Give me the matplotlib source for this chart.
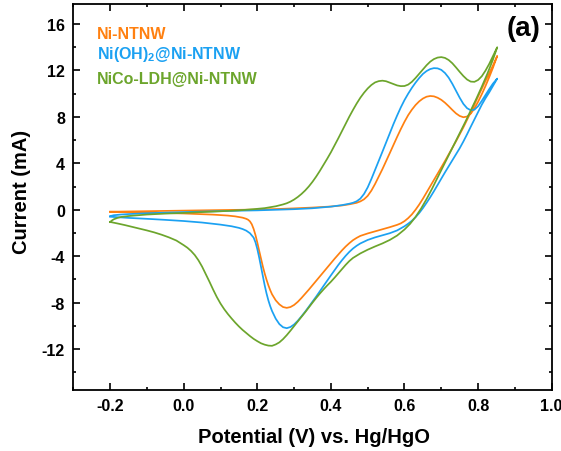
import matplotlib
matplotlib.use("Agg")
import matplotlib.pyplot as plt
from matplotlib.ticker import MultipleLocator

plt.rcParams['font.family'] = ['Liberation Sans', 'DejaVu Sans']
plt.rcParams['font.weight'] = 'bold'
plt.rcParams['axes.unicode_minus'] = False
plt.rcParams['mathtext.fontset'] = 'custom'
plt.rcParams['mathtext.rm'] = 'Liberation Sans:bold'
plt.rcParams['mathtext.bf'] = 'Liberation Sans:bold'

# ---- CV data: (potential V vs. Hg/HgO, current mA) ----
# Ni-NTNW, anodic sweep
ni_anodic = [(-0.20, -0.17), (-0.15, -0.145), (-0.10, -0.12), (-0.05, -0.095), (0.00, -0.07),
             (0.05, -0.05), (0.10, -0.03), (0.15, -0.005), (0.20, 0.02), (0.25, 0.06), (0.30, 0.12),
             (0.35, 0.19), (0.40, 0.28), (0.43, 0.37), (0.45, 0.47), (0.47, 0.60), (0.48, 0.72),
             (0.49, 0.90), (0.50, 1.20), (0.51, 1.65), (0.52, 2.22), (0.53, 2.85), (0.54, 3.50),
             (0.55, 4.18), (0.56, 4.88), (0.57, 5.58), (0.58, 6.28), (0.59, 6.95), (0.60, 7.58),
             (0.61, 8.15), (0.62, 8.62), (0.63, 9.02), (0.64, 9.34), (0.65, 9.58), (0.66, 9.74),
             (0.67, 9.80), (0.68, 9.77), (0.69, 9.65), (0.70, 9.47), (0.71, 9.22), (0.72, 8.92),
             (0.73, 8.60), (0.74, 8.30), (0.75, 8.08), (0.76, 7.97), (0.77, 8.03), (0.78, 8.28),
             (0.79, 8.72), (0.80, 9.30), (0.81, 9.95), (0.82, 10.65), (0.83, 11.40), (0.84, 12.20),
             (0.852, 13.25)]
# Ni-NTNW, cathodic sweep
ni_cathodic = [(0.852, 13.25), (0.84, 12.40), (0.83, 11.75), (0.82, 11.10), (0.81, 10.42),
               (0.80, 9.75), (0.79, 9.08), (0.78, 8.40), (0.77, 7.75), (0.76, 7.10), (0.75, 6.50),
               (0.74, 5.90), (0.73, 5.33), (0.72, 4.76), (0.71, 4.20), (0.70, 3.65), (0.69, 3.11),
               (0.68, 2.57), (0.67, 2.03), (0.66, 1.48), (0.65, 0.95), (0.64, 0.45), (0.63, 0.00),
               (0.62, -0.40), (0.61, -0.72), (0.60, -0.98), (0.59, -1.17), (0.58, -1.30),
               (0.56, -1.50), (0.54, -1.68), (0.52, -1.86), (0.50, -2.04), (0.48, -2.25),
               (0.47, -2.42), (0.46, -2.62), (0.45, -2.88), (0.44, -3.17), (0.43, -3.50),
               (0.42, -3.86), (0.41, -4.22), (0.40, -4.60), (0.39, -4.97), (0.38, -5.35),
               (0.37, -5.74), (0.36, -6.12), (0.35, -6.50), (0.34, -6.88), (0.33, -7.24),
               (0.32, -7.60), (0.31, -7.93), (0.30, -8.20), (0.29, -8.38), (0.28, -8.45),
               (0.27, -8.38), (0.26, -8.15), (0.25, -7.80), (0.24, -7.28), (0.235, -6.92),
               (0.23, -6.50), (0.225, -6.02), (0.22, -5.48), (0.215, -4.88), (0.21, -4.22),
               (0.205, -3.52), (0.20, -2.82), (0.195, -2.18), (0.19, -1.65), (0.185, -1.25),
               (0.18, -1.00), (0.175, -0.86), (0.17, -0.78), (0.16, -0.68), (0.14, -0.57),
               (0.12, -0.50), (0.08, -0.42), (0.04, -0.37), (0.00, -0.32), (-0.05, -0.28),
               (-0.10, -0.24), (-0.15, -0.20), (-0.20, -0.17)]

# Ni(OH)2@Ni-NTNW, anodic sweep
nh_anodic = [(-0.20, -0.55), (-0.19, -0.47), (-0.17, -0.41), (-0.15, -0.37), (-0.10, -0.30),
             (-0.05, -0.25), (0.00, -0.20), (0.05, -0.16), (0.10, -0.12), (0.15, -0.08),
             (0.20, -0.05), (0.25, 0.00), (0.30, 0.05), (0.35, 0.13), (0.40, 0.27), (0.43, 0.40),
             (0.45, 0.52), (0.46, 0.60), (0.47, 0.73), (0.48, 0.96), (0.49, 1.36), (0.50, 1.93),
             (0.51, 2.65), (0.52, 3.43), (0.53, 4.22), (0.54, 5.00), (0.55, 5.80), (0.56, 6.60),
             (0.57, 7.38), (0.58, 8.12), (0.59, 8.82), (0.60, 9.45), (0.61, 10.00), (0.62, 10.50),
             (0.63, 10.95), (0.64, 11.35), (0.65, 11.70), (0.66, 11.95), (0.67, 12.12), (0.68, 12.20),
             (0.69, 12.18), (0.70, 12.05), (0.71, 11.78), (0.72, 11.38), (0.73, 10.85), (0.74, 10.25),
             (0.75, 9.65), (0.76, 9.12), (0.77, 8.75), (0.78, 8.57), (0.79, 8.62), (0.80, 8.92),
             (0.81, 9.38), (0.82, 9.88), (0.83, 10.38), (0.84, 10.85), (0.852, 11.30)]
# Ni(OH)2@Ni-NTNW, cathodic sweep
nh_cathodic = [(0.852, 11.30), (0.84, 10.65), (0.83, 10.10), (0.82, 9.60), (0.81, 9.05),
               (0.80, 8.42), (0.79, 7.78), (0.78, 7.15), (0.77, 6.50), (0.76, 5.88), (0.75, 5.30),
               (0.74, 4.78), (0.73, 4.25), (0.72, 3.75), (0.71, 3.22), (0.70, 2.68), (0.69, 2.14),
               (0.68, 1.60), (0.67, 1.08), (0.66, 0.60), (0.65, 0.14), (0.64, -0.28), (0.63, -0.64),
               (0.62, -0.95), (0.61, -1.20), (0.60, -1.42), (0.58, -1.78), (0.56, -2.02),
               (0.54, -2.20), (0.52, -2.38), (0.50, -2.60), (0.48, -2.90), (0.47, -3.10),
               (0.46, -3.34), (0.45, -3.63), (0.44, -3.97), (0.43, -4.35), (0.42, -4.76),
               (0.41, -5.20), (0.40, -5.65), (0.39, -6.10), (0.38, -6.56), (0.37, -7.02),
               (0.36, -7.48), (0.35, -7.92), (0.34, -8.35), (0.33, -8.78), (0.32, -9.18),
               (0.31, -9.56), (0.30, -9.88), (0.29, -10.10), (0.28, -10.20), (0.27, -10.12),
               (0.26, -9.85), (0.25, -9.38), (0.24, -8.72), (0.235, -8.30), (0.23, -7.80),
               (0.225, -7.20), (0.22, -6.50), (0.215, -5.72), (0.21, -4.90), (0.205, -4.10),
               (0.20, -3.38), (0.195, -2.80), (0.19, -2.40), (0.18, -2.02), (0.17, -1.80),
               (0.16, -1.66), (0.15, -1.56), (0.13, -1.42), (0.10, -1.28), (0.05, -1.10),
               (0.00, -0.97), (-0.05, -0.87), (-0.10, -0.78), (-0.15, -0.70), (-0.20, -0.60)]

# NiCo-LDH@Ni-NTNW, anodic sweep
nc_anodic = [(-0.20, -1.05), (-0.195, -0.92), (-0.19, -0.82), (-0.18, -0.70), (-0.17, -0.62),
             (-0.15, -0.54), (-0.12, -0.46), (-0.10, -0.41), (-0.05, -0.33), (0.00, -0.27),
             (0.05, -0.20), (0.10, -0.13), (0.15, -0.05), (0.19, 0.05), (0.22, 0.14), (0.25, 0.30),
             (0.27, 0.46), (0.28, 0.56), (0.29, 0.70), (0.30, 0.88), (0.31, 1.10), (0.32, 1.36),
             (0.33, 1.66), (0.34, 2.01), (0.35, 2.41), (0.36, 2.86), (0.37, 3.35), (0.38, 3.87),
             (0.39, 4.40), (0.40, 4.95), (0.41, 5.55), (0.42, 6.15), (0.43, 6.78), (0.44, 7.40),
             (0.45, 8.02), (0.46, 8.60), (0.47, 9.15), (0.48, 9.65), (0.49, 10.08), (0.50, 10.45),
             (0.51, 10.75), (0.52, 10.97), (0.53, 11.08), (0.54, 11.12), (0.55, 11.07),
             (0.56, 10.95), (0.57, 10.82), (0.58, 10.71), (0.59, 10.65), (0.60, 10.66),
             (0.61, 10.78), (0.62, 11.02), (0.63, 11.35), (0.64, 11.72), (0.65, 12.10),
             (0.66, 12.45), (0.67, 12.76), (0.68, 12.98), (0.69, 13.11), (0.70, 13.15),
             (0.71, 13.08), (0.72, 12.90), (0.73, 12.62), (0.74, 12.26), (0.75, 11.88),
             (0.76, 11.52), (0.77, 11.22), (0.78, 11.04), (0.79, 11.02), (0.80, 11.18),
             (0.81, 11.50), (0.82, 11.98), (0.83, 12.55), (0.84, 13.20), (0.852, 14.00)]
# NiCo-LDH@Ni-NTNW, cathodic sweep
nc_cathodic = [(0.852, 14.00), (0.84, 12.90), (0.825, 11.70), (0.81, 10.60), (0.795, 9.55),
               (0.78, 8.55), (0.765, 7.55), (0.75, 6.60), (0.735, 5.65), (0.72, 4.70),
               (0.705, 3.75), (0.69, 2.78), (0.675, 1.82), (0.66, 0.92), (0.645, 0.10),
               (0.63, -0.62), (0.615, -1.22), (0.60, -1.70), (0.58, -2.22), (0.56, -2.60),
               (0.54, -2.90), (0.52, -3.16), (0.50, -3.44), (0.48, -3.76), (0.46, -4.15),
               (0.45, -4.42), (0.44, -4.75), (0.43, -5.12), (0.42, -5.50), (0.41, -5.85),
               (0.40, -6.20), (0.39, -6.52), (0.38, -6.86), (0.37, -7.22), (0.36, -7.60),
               (0.35, -8.00), (0.34, -8.42), (0.33, -8.83), (0.32, -9.22), (0.31, -9.62),
               (0.30, -10.02), (0.29, -10.42), (0.28, -10.80), (0.27, -11.14), (0.26, -11.42),
               (0.25, -11.60), (0.24, -11.72), (0.23, -11.70), (0.22, -11.62), (0.21, -11.50),
               (0.20, -11.32), (0.19, -11.12), (0.18, -10.88), (0.17, -10.62), (0.16, -10.35),
               (0.15, -10.05), (0.14, -9.72), (0.13, -9.36), (0.12, -8.98), (0.11, -8.56),
               (0.10, -8.08), (0.09, -7.52), (0.08, -6.88), (0.07, -6.20), (0.06, -5.55),
               (0.05, -4.90), (0.04, -4.35), (0.03, -3.90), (0.02, -3.55), (0.01, -3.27),
               (0.00, -3.05), (-0.02, -2.65), (-0.04, -2.38), (-0.06, -2.15), (-0.08, -1.95),
               (-0.10, -1.78), (-0.13, -1.55), (-0.16, -1.32), (-0.18, -1.18), (-0.20, -1.05)]

labels = ["Ni-NTNW", r"Ni(OH)$_{\mathbf{2}}$@Ni-NTNW", "NiCo-LDH@Ni-NTNW"]
colors = ["#FF8010", "#1BA1F2", "#6CA52C"]
sweeps = [(ni_anodic, ni_cathodic), (nh_anodic, nh_cathodic), (nc_anodic, nc_cathodic)]

x_ticks = [-0.2, 0.0, 0.2, 0.4, 0.6, 0.8, 1.0]
x_ticklabels = ["-0.2", "0.0", "0.2", "0.4", "0.6", "0.8", "1.0"]
y_ticks = [-12, -8, -4, 0, 4, 8, 12, 16]
y_ticklabels = ["-12", "-8", "-4", "0", "4", "8", "12", "16"]

fig = plt.figure(figsize=(5.61, 4.52), dpi=100)
ax = fig.add_axes([0.1307, 0.1356, 0.8527, 0.854])

for (anodic, cathodic), color in zip(sweeps, colors):
    loop = list(anodic) + list(cathodic[1:])
    v = [p[0] for p in loop]
    i = [p[1] for p in loop]
    ax.plot(v, i, color=color, lw=1.25, solid_joinstyle='round')

ax.set_xlim(-0.3, 1.0)
ax.set_ylim(-15.5, 17.75)
ax.set_xticks(x_ticks)
ax.set_xticklabels(x_ticklabels)
ax.set_yticks(y_ticks)
ax.set_yticklabels(y_ticklabels)
ax.xaxis.set_minor_locator(MultipleLocator(0.1))
ax.yaxis.set_minor_locator(MultipleLocator(2))
ax.tick_params(which='both', direction='in', top=True, right=True, width=1.2)
ax.tick_params(which='major', length=5, labelsize=11.5, pad=6)
ax.tick_params(which='minor', length=2.5)
for lab in ax.get_xticklabels() + ax.get_yticklabels():
    lab.set_fontweight('bold')
for sp in ax.spines.values():
    sp.set_linewidth(1.3)

# series labels, coloured like their curves
legend_y = [0.9111, 0.8593, 0.7946]
for label, color, yy in zip(labels, colors, legend_y):
    ax.text(0.0495, yy, label, color=color, fontsize=11.5, fontweight='bold',
            transform=ax.transAxes, ha='left', va='baseline')

ax.text(0.9776, 0.9189, "(a)", fontsize=20, fontweight='bold',
        transform=ax.transAxes, ha='right', va='baseline')

fig.text(314.5 / 561, (452 - 442.7) / 452, "Potential (V) vs. Hg/HgO",
         fontsize=14.5, fontweight='bold', ha='center', va='baseline')
fig.text(22 / 561, (452 - 192) / 452, "Current (mA)", rotation=90,
         fontsize=14.5, fontweight='bold', ha='center', va='center')

fig.savefig("out.png", dpi=100)
